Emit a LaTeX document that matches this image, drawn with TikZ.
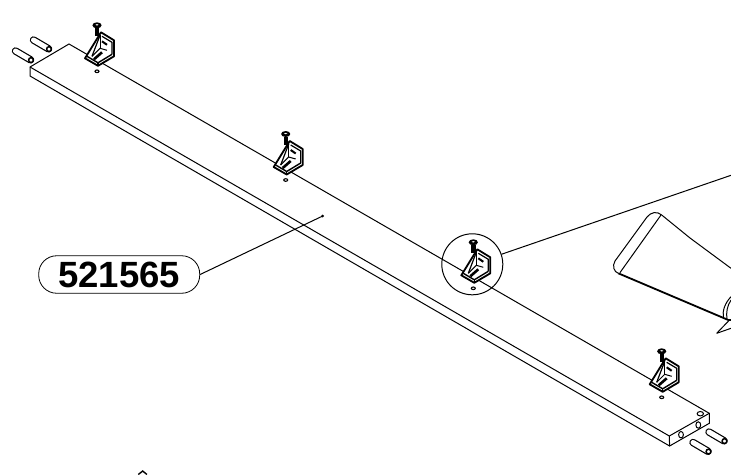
\documentclass[tikz,border=0pt]{standalone}
\usepackage{fontspec}
\setmainfont{Liberation Sans}
\tikzset{
  edgeline/.style={line width=1pt},
  heavyline/.style={line width=1.8pt},
  partlabel/.style={draw,line width=.8pt,rounded corners=18pt,minimum width=161pt,minimum height=37.5pt,inner sep=0pt,font=\fontsize{36.5}{37}\selectfont\bfseries},
  detailring/.style={draw,circle,line width=1pt,minimum size=61pt,inner sep=0pt},
  pics/bracket/.style={code={
    \fill[white] (-12,-13) -- (4,-39) -- (17,-31) -- (17,-15) -- (1,-5) -- cycle;
    \draw[line width=1.1pt] (0,0) ellipse (2 and 1.3);
    % back plate
    \draw[heavyline,line join=round] (4,-39) -- (17,-31) -- (17,-15) -- (1,-5.5) -- (-12,-13) -- cycle;
    \draw[line width=1.2pt] (5,-35) -- (15,-29) -- (15,-17);
    % gusset
    \draw[line width=1.2pt] (3,-36) -- (-5,-15);
    \draw[line width=1pt] (3,-36) -- (3,-23);
    \draw[line width=1.4pt] (-10,-15) -- (1,-8.5) -- (15,-17);
    \draw[line width=1pt] (-5,-15) -- (3,-23) -- (10,-21);
    \draw[line width=1.2pt] (1,-8.5) -- (1,-5.5);
    % slot and hole of the plate
    \draw[line width=2.6pt] (-3,-12) -- (5,-19);
    \draw[line width=2pt] (5,-30) -- (10,-26.5);
    % screw
    \fill (-2,-43) rectangle (2.2,-35);
    \fill (0,-46) ellipse (4.6 and 3);
    \fill[white] (0,-46.5) ellipse (1.6 and .7);
  }},
  pics/dowel/.style={code={
    \draw[line width=7.4pt,line cap=round] (0,0) -- (15,8.8);
    \draw[white,line width=5pt,line cap=round] (0,0) -- (15,8.8);
    \draw[line width=1.5pt] (15.5,9.1) circle (2.4);
  }}
}
\begin{document}
\begin{tikzpicture}[x=1pt,y=-1pt]
\useasboundingbox (0,0) rectangle (731,474);
\clip (0,0) rectangle (731,474);
% beam
\draw[edgeline] (30,67) -- (69,44) -- (709.3,413.3) -- (709.3,423.3) -- (669.6,446) -- (30,76) -- cycle;
\draw[edgeline] (30,67) -- (669.3,436) -- (709.3,413.3);
\draw[edgeline] (669.3,436) -- (669.6,446);
\draw[edgeline] (681,434.7) ellipse (2.4 and 3.2);
\draw[edgeline] (698.3,425) ellipse (2.4 and 3.2);
\draw[edgeline] (700.3,413.7) ellipse (3.2 and 2.2);
% dowels
\pic at (33.5,40) {dowel};
\pic at (15.5,51) {dowel};
\pic at (709,432) {dowel};
\pic at (693,442.5) {dowel};
% brackets
\pic at (97,71.3) {bracket};
\pic at (285.7,180) {bracket};
\pic at (473.3,288.3) {bracket};
\pic at (661.7,397.3) {bracket};
% detail ring and enlarged part
\node[detailring] (ring) at (472.3,264.3) {};
\coordinate (ringend) at (731,175.3);
\draw[edgeline] (ring) -- (ringend);
\draw[edgeline] (661.7,215) .. controls (657,211) and (651,212) .. (647,217) -- (615,261) .. controls (612,266) and (614,272) .. (618.3,273.3);
\draw[edgeline] (661,215) -- (620,272.6);
\draw[edgeline] (661.7,215) -- (690,238) -- (731,268.3);
\draw[heavyline] (618.3,273.3) -- (728.3,320) -- (731,320);
\draw[edgeline] (731,296.7) .. controls (725,303) and (722,311) .. (723.5,318);
\draw[edgeline] (731,300) .. controls (727,306) and (726,313) .. (727,319);
\draw[edgeline] (716.7,333.3) -- (729,320.5);
\draw[edgeline] (716.7,333.3) -- (731,328.3);
% part number
\node[partlabel] (part) at (119.2,274.5) {521565};
\coordinate (parttip) at (322.7,216);
\draw[edgeline] (part.east) -- (parttip);
\fill (parttip) circle (1.5);
% cut off mark at bottom
\draw[line width=1.4pt] (138.3,474.5) -- (142.7,471) -- (146.9,474.5);
\end{tikzpicture}
\end{document}
